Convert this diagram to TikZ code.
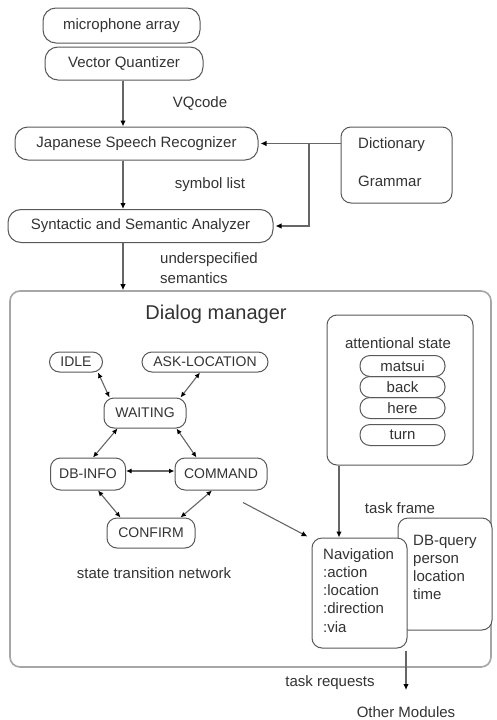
\documentclass[tikz,border=0pt]{standalone}
\usepackage{fontspec}
\setmainfont{Liberation Sans}
\usetikzlibrary{arrows.meta,calc}
\begin{document}
\begin{tikzpicture}[x=1pt,y=-1pt,
  line/.style={draw=black!60, line width=1.1pt},
  arr/.style={line, -{Latex[length=6pt,width=5.5pt,color=black]}},
  darr/.style={line, {Latex[length=5.5pt,width=5pt,color=black]}-{Latex[length=5.5pt,width=5pt,color=black]}},
  pill/.style={draw=black!65, line width=1pt, rounded corners=13pt, inner sep=0pt, font=\fontsize{15}{18}\selectfont, text=black!80},
  statebox/.style={draw=black!65, line width=1pt, rounded corners=10pt, inner sep=0pt, font=\fontsize{14}{16}\selectfont, text=black!80},
  itembox/.style={draw=black!65, line width=1pt, rounded corners=10pt, inner sep=0pt, minimum width=85pt, minimum height=21pt, font=\fontsize{15}{17}\selectfont, text=black!80},
  lbl/.style={font=\fontsize{15}{18}\selectfont, text=black!80, inner sep=0pt},
  panel/.style={draw=black!65, line width=1pt, rounded corners=10pt, inner sep=0pt},
]
\fill[white] (0,0) rectangle (496,720);
\useasboundingbox (0,0) rectangle (496,720);

% top pipeline
\node[pill, minimum width=157pt, minimum height=35pt] (mic) at (121.5,25.5) {microphone array};
\node[pill, minimum width=158pt, minimum height=33pt] (vq) at (124,63.5) {Vector Quantizer};
\node[pill, minimum width=243pt, minimum height=33pt] (jsr) at (136.5,143.5) {Japanese Speech Recognizer};
\node[panel, minimum width=111pt, minimum height=76pt] (dict) at (396.5,165) {};
\node[lbl, anchor=west] (dictt) at (358,145) {Dictionary};
\node[lbl, anchor=west] (gram) at (358,181) {Grammar};
\node[pill, minimum width=265pt, minimum height=33pt] (ssa) at (140.5,226) {Syntactic and Semantic Analyzer};

\node[lbl] (vqc) at (200,103) {VQcode};
\node[lbl] (sym) at (210,185) {symbol list};
\node[lbl, anchor=west, align=left, font=\fontsize{15}{20}\selectfont] (us) at (160,268) {underspecified\\semantics};

% dialog manager
\node[draw=black!35, line width=1.6pt, rounded corners=10pt, minimum width=481pt, minimum height=376pt] (dm) at (250.5,479) {};
\node[font=\fontsize{20}{24}\selectfont, text=black!80, inner sep=0pt] (dmt) at (216,314) {Dialog manager};

\coordinate (c123) at (123,0);
\draw[arr] (vq.south -| c123) -- (jsr.north -| c123);
\draw[arr] (jsr.south -| c123) -- (ssa.north -| c123);
\draw[arr] (ssa.south -| c123) -- (dm.north -| c123);
\coordinate (jx) at (309,0);
\draw[arr, shorten >=2pt] (dict.west |- jsr.east) -- (jsr.east);
\draw[arr, shorten >=2pt] (jx |- jsr.east) -- (jx |- ssa.east) -- (ssa.east);

% states
\node[statebox, minimum width=53pt, minimum height=20pt] (idle) at (76,362) {IDLE};
\node[statebox, minimum width=126pt, minimum height=20pt] (ask) at (205,362) {ASK-LOCATION};
\node[statebox, minimum width=82pt, minimum height=30pt] (wait) at (145,413) {WAITING};
\node[statebox, minimum width=75pt, minimum height=32pt] (dbi) at (88,474) {DB-INFO};
\node[statebox, minimum width=92pt, minimum height=32pt] (cmd) at (221,474) {COMMAND};
\node[statebox, minimum width=88pt, minimum height=30pt] (conf) at (151,533) {CONFIRM};
\node[lbl] (stn) at (154,573) {state transition network};

\draw[darr] ([shift={(-5,0)}]idle.south east) -- ([shift={(6,0)}]wait.north west);
\draw[darr] ([shift={(-5,0)}]ask.south) -- ([shift={(-6,0)}]wait.north east);
\draw[darr] ([shift={(14,0)}]wait.south west) -- ([shift={(5,0)}]dbi.north);
\draw[darr] ([shift={(-10,0)}]wait.south east) -- ([shift={(22,0)}]cmd.north west);
\draw[darr] ([shift={(0,-3)}]dbi.east) -- ([shift={(0,-3)}]cmd.west);
\draw[darr] ([shift={(10,0)}]dbi.south) -- ([shift={(14,0)}]conf.north west);
\draw[darr] ([shift={(-9,0)}]cmd.south) -- ([shift={(-15,0)}]conf.north east);

% attentional state
\node[panel, minimum width=146pt, minimum height=150pt] (att) at (400,390) {};
\node[lbl] (attt) at (398,343) {attentional state};
\node[itembox] (i1) at (402.5,366) {matsui};
\node[itembox] (i2) at (402.5,387) {back};
\node[itembox] (i3) at (402.5,408) {here};
\node[itembox] (i4) at (402.5,435) {turn};

% task frames
\node[panel, fill=white, minimum width=94pt, minimum height=112pt] (dbq) at (445,574) {};
\node[lbl, anchor=north west, align=left, font=\fontsize{15}{18}\selectfont] (dbqt) at (413,535) {DB-query\\person\\location\\time};
\node[panel, fill=white, minimum width=95pt, minimum height=110pt] (nav) at (359.5,593) {};
\node[lbl, anchor=north west, align=left, font=\fontsize{15}{18.25}\selectfont] (navt) at (323,548) {Navigation\\:action\\:location\\:direction\\:via};

\coordinate (tfx) at (339,0);
\draw[arr] (att.south -| tfx) -- (nav.north -| tfx);
\node[lbl] (tf) at (400,508) {task frame};
\draw[arr] ([shift={(22,12)}]cmd.south) -- ([shift={(-4,-1)}]nav.north west);

\coordinate (om) at (406,690);
\draw[arr] ([shift={(0,2)}]nav.south -| om) -- (om);
\node[lbl] (tr) at (330,683) {task requests};
\node[lbl] (omt) at (406,712) {Other Modules};
\end{tikzpicture}
\end{document}
